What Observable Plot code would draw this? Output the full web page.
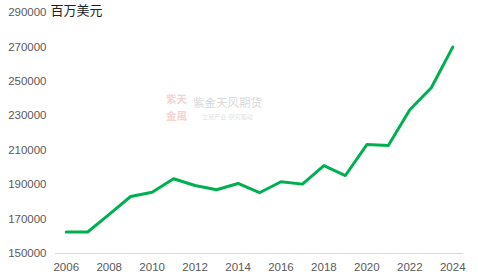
<!DOCTYPE html>
<html>
<head>
<meta charset="utf-8">
<script src="https://cdn.jsdelivr.net/npm/d3@7"></script>
<script src="https://cdn.jsdelivr.net/npm/@observablehq/plot@0.6"></script>
<style>
  html, body { margin: 0; padding: 0; background: #fff; }
  #chart { position: relative; width: 478px; height: 280px; }
</style>
</head>
<body>
<div id="chart"></div>
<script>
const years = [2006, 2007, 2008, 2009, 2010, 2011, 2012, 2013, 2014, 2015, 2016, 2017, 2018, 2019, 2020, 2021, 2022, 2023, 2024];
const values = [162500, 162500, 172700, 183100, 185600, 193400, 189500, 187000, 190700, 185300, 191700, 190300, 201100, 195300, 213300, 212700, 233500, 246300, 269900];
const yTicks = [150000, 170000, 190000, 210000, 230000, 250000, 270000, 290000];
const xTicks = [2006, 2008, 2010, 2012, 2014, 2016, 2018, 2020, 2022, 2024];
const unitLabel = "百万美元";
const watermark = "紫金天风期货";
const watermarkSub = "立足产业  研究驱动";
const logoTop = "紫天";
const logoBottom = "金風";

const data = years.map((y, i) => ({year: y, value: values[i]}));

const plot = Plot.plot({
  width: 478,
  height: 280,
  marginLeft: 55,
  marginRight: 15,
  marginTop: 12,
  marginBottom: 27,
  style: {fontFamily: "'Liberation Sans', 'Noto Sans CJK SC', sans-serif", fontSize: "11.5px", color: "#595959", background: "#fff"},
  x: {domain: [2005.5, 2024.5], ticks: xTicks, tickFormat: d => String(d), tickSize: 0, tickPadding: 9, label: null},
  y: {domain: [150000, 290000], ticks: yTicks, tickFormat: d => String(d), tickSize: 0, tickPadding: 9, label: null},
  marks: [
    Plot.text([logoTop], {frameAnchor: "middle", dx: -83, dy: -33, text: d => d, fill: "#f5d3d3", fontSize: 10.5, fontWeight: "bold", fontFamily: "'Noto Sans CJK SC', sans-serif"}),
    Plot.text([logoBottom], {frameAnchor: "middle", dx: -83, dy: -16, text: d => d, fill: "#f5d3d3", fontSize: 10.5, fontWeight: "bold", fontFamily: "'Noto Sans CJK SC', sans-serif"}),
    Plot.text([watermark], {frameAnchor: "middle", dx: -32, dy: -30, text: d => d, fill: "#d9d9d9", fontSize: 11.5, fontFamily: "'Noto Sans CJK SC', sans-serif"}),
    Plot.text([watermarkSub], {frameAnchor: "middle", dx: -32, dy: -16, text: d => d, fill: "#e3e3e3", fontSize: 6, letterSpacing: "2px", fontFamily: "'Noto Sans CJK SC', sans-serif"}),
    Plot.ruleY([150000], {stroke: "#d9d9d9", strokeWidth: 1}),
    Plot.line(data, {x: "year", y: "value", stroke: "#00b050", strokeWidth: 3, strokeLinejoin: "round"}),
    Plot.axisX({ticks: xTicks, tickFormat: d => String(d), tickSize: 0, tickPadding: 9, fill: "#595959"}),
    Plot.axisY({ticks: yTicks, tickFormat: d => String(d), tickSize: 0, tickPadding: 9, fill: "#595959"}),
    Plot.text([unitLabel], {frameAnchor: "top-left", dx: -5, dy: -7, text: d => d, fill: "#222", fontSize: 13, textAnchor: "start", lineAnchor: "top", fontFamily: "'Noto Sans CJK SC', sans-serif"})
  ]
});
document.getElementById("chart").appendChild(plot);
</script>
</body>
</html>
